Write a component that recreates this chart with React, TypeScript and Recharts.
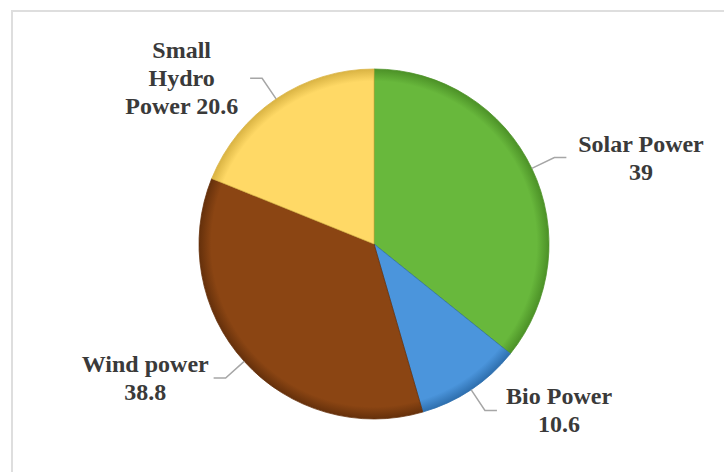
import { PieChart, Pie, Cell } from 'recharts';

// installed capacity by source
const categories = ['Solar Power', 'Bio Power', 'Wind power', 'Small Hydro Power'];
const capacities = [39, 10.6, 38.8, 20.6];
// how each name wraps inside its data label
const nameLines = [['Solar Power'], ['Bio Power'], ['Wind power'], ['Small', 'Hydro', 'Power']];

const sliceColors = ['#68b83c', '#4b95dc', '#8b4513', '#ffd966'];
const rimColors = ['#4c9127', '#2e6fae', '#65300b', '#d9b343'];

const data = categories.map((name, i) => ({ name, value: capacities[i] }));

const W = 724;
const H = 472;
const CX = 374;
const CY = 244;
const R = 175;
const RAD = Math.PI / 180;
const FONT = 24;
const LINE_H = 28;
const TEXT_COLOR = '#3a3a3a';

const renderLabel = (props: any) => {
  const { cx, cy, midAngle, outerRadius, index, value } = props;
  const base = nameLines[index];
  const last = base[base.length - 1];
  const lines =
    last.length <= 6
      ? [...base.slice(0, -1), `${last} ${value}`]
      : [...base, String(value)];

  const cos = Math.cos(-midAngle * RAD);
  const sin = Math.sin(-midAngle * RAD);
  const sx = cx + outerRadius * cos;
  const sy = cy + outerRadius * sin;
  const ex = cx + (outerRadius + 25) * cos;
  const ey = cy + (outerRadius + 25) * sin;
  const dir = cos >= 0 ? 1 : -1;
  const hx = ex + dir * 12;

  const longest = Math.max(...lines.map((l) => l.length));
  const half = longest * FONT * 0.26;
  const tx = hx + dir * (6 + half);
  const top = ey - ((lines.length - 1) * LINE_H) / 2;

  return (
    <g key={`label-${index}`}>
      <polyline
        points={`${sx},${sy} ${ex},${ey} ${hx},${ey}`}
        fill="none"
        stroke="#a6a6a6"
        strokeWidth={1.5}
      />
      <text
        x={tx}
        y={top}
        textAnchor="middle"
        dominantBaseline="central"
        fontFamily="'Liberation Serif', 'Times New Roman', serif"
        fontWeight="bold"
        fontSize={FONT}
        fill={TEXT_COLOR}
      >
        {lines.map((line, i) => (
          <tspan key={i} x={tx} y={top + i * LINE_H}>
            {line}
          </tspan>
        ))}
      </text>
    </g>
  );
};

const App = () => {
  return (
    <div
      style={{
        position: 'absolute',
        left: 0,
        top: 0,
        width: W,
        height: H,
        overflow: 'hidden',
        background: '#fff',
      }}
    >
      <style>{`.recharts-pie-sectors { filter: drop-shadow(2px 3px 3px rgba(0,0,0,0.35)); }`}</style>
      <div
        style={{
          position: 'absolute',
          left: 11,
          top: 10,
          width: 780,
          height: 520,
          border: '2px solid #dedede',
        }}
      />
      <div style={{ position: 'absolute', left: 0, top: 0 }}>
        <PieChart width={W} height={H} margin={{ top: 0, right: 0, bottom: 0, left: 0 }}>
          <defs>
            {sliceColors.map((c, i) => (
              <radialGradient
                key={i}
                id={`slice-${i}`}
                gradientUnits="userSpaceOnUse"
                cx={CX}
                cy={CY}
                r={R}
              >
                <stop offset="0%" stopColor={c} />
                <stop offset="93%" stopColor={c} />
                <stop offset="100%" stopColor={rimColors[i]} />
              </radialGradient>
            ))}
          </defs>
          <Pie
            data={data}
            dataKey="value"
            nameKey="name"
            cx={CX}
            cy={CY}
            outerRadius={R}
            startAngle={90}
            endAngle={-270}
            label={renderLabel}
            labelLine={false}
            isAnimationActive={false}
          >
            {data.map((_, i) => (
              <Cell key={i} fill={`url(#slice-${i})`} stroke={rimColors[i]} strokeWidth={0.75} />
            ))}
          </Pie>
        </PieChart>
      </div>
    </div>
  );
};

export default App;
